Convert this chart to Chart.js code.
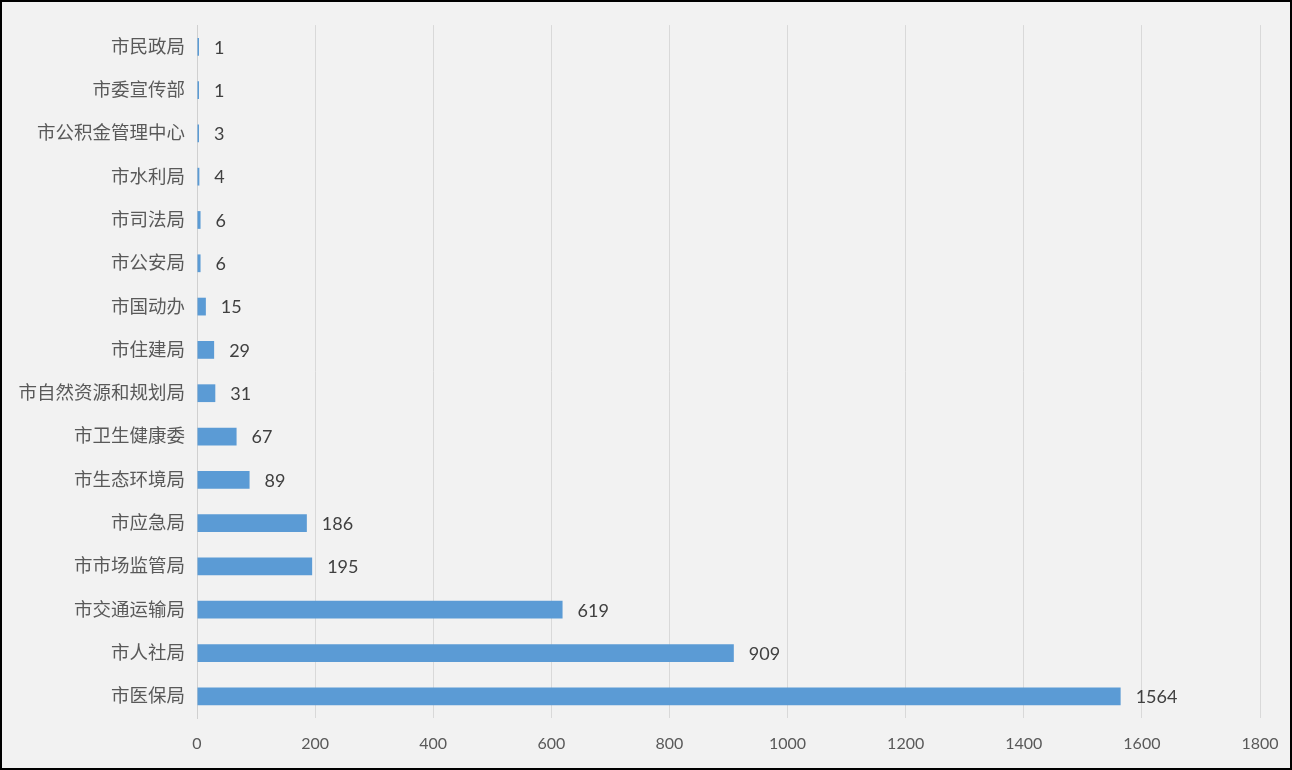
<!DOCTYPE html>
<html>
<head>
<meta charset="utf-8">
<script src="https://cdn.jsdelivr.net/npm/chart.js@4/dist/chart.umd.min.js"></script>
<style>
  html, body { margin: 0; padding: 0; background: #fff; }
  #wrap {
    width: 1292px; height: 770px; box-sizing: border-box;
    border: 2px solid #000; background: #f2f2f2;
  }
  canvas { display: block; }
</style>
</head>
<body>
<div id="wrap"><canvas id="chart" width="1288" height="766"></canvas></div>
<script>
// 各部门数量（从上到下）
const departments = [
  '市民政局', '市委宣传部', '市公积金管理中心', '市水利局', '市司法局', '市公安局',
  '市国动办', '市住建局', '市自然资源和规划局', '市卫生健康委', '市生态环境局',
  '市应急局', '市市场监管局', '市交通运输局', '市人社局', '市医保局'
]
const counts = [1, 1, 3, 4, 6, 6, 15, 29, 31, 67, 89, 186, 195, 619, 909, 1564]
const xTicks = [0, 200, 400, 600, 800, 1000, 1200, 1400, 1600, 1800]

const FONT = 'Lato, "Noto Sans CJK SC", sans-serif'

// 柱子末端的数值标签
const valueLabels = {
  id: 'valueLabels',
  afterDatasetsDraw(chart) {
    const ctx = chart.ctx
    const meta = chart.getDatasetMeta(0)
    ctx.save()
    ctx.font = '18px ' + FONT
    ctx.fillStyle = '#404040'
    ctx.textAlign = 'left'
    ctx.textBaseline = 'middle'
    meta.data.forEach((bar, i) => {
      ctx.fillText(String(counts[i]), bar.x + 15, bar.y + 1)
    })
    ctx.restore()
  }
}

new Chart(document.getElementById('chart'), {
  type: 'bar',
  data: {
    labels: departments,
    datasets: [{
      data: counts,
      backgroundColor: '#5b9bd5',
      borderWidth: 0,
      minBarLength: 2,
      barPercentage: 0.82,
      categoryPercentage: 0.5
    }]
  },
  options: {
    indexAxis: 'y',
    responsive: false,
    animation: false,
    layout: { padding: { left: 0, top: 22, right: 30, bottom: 0 } },
    scales: {
      x: {
        min: 0,
        max: 1800,
        afterBuildTicks: (scale) => { scale.ticks = xTicks.map(v => ({ value: v })) },
        afterFit: (scale) => {
          scale.height = 50
          scale.paddingLeft = 0
          scale.paddingRight = 0
        },
        grid: { color: '#d9d9d9', lineWidth: 1, drawTicks: false },
        border: { display: false },
        ticks: {
          padding: 16, color: '#595959', font: { family: FONT, size: 16 },
          callback: (v) => String(v)
        }
      },
      y: {
        afterFit: (scale) => { scale.width = 195 },
        grid: { display: false, drawTicks: false },
        border: { display: true, color: '#d0d0d0', width: 1 },
        ticks: { padding: 12, color: '#595959', font: { family: FONT, size: 18.5 } }
      }
    },
    plugins: {
      legend: { display: false },
      tooltip: { enabled: false }
    }
  },
  plugins: [valueLabels]
})
</script>
</body>
</html>
